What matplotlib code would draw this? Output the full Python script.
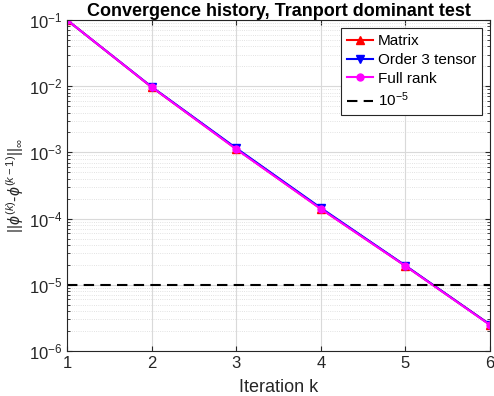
import matplotlib
matplotlib.use("Agg")
import matplotlib.pyplot as plt
from matplotlib.ticker import LogLocator, NullFormatter

plt.rcParams['font.family'] = ['Liberation Sans', 'DejaVu Sans']
plt.rcParams['mathtext.fontset'] = 'custom'
plt.rcParams['mathtext.rm'] = 'Liberation Sans'
plt.rcParams['mathtext.it'] = 'Liberation Sans:italic'
plt.rcParams['mathtext.bf'] = 'Liberation Sans:bold'

iterations = [1, 2, 3, 4, 5, 6]
matrix_err = [1.0e-1, 9.7e-3, 1.13e-3, 1.41e-4, 1.93e-5, 2.5e-6]
tensor_err = [1.0e-1, 9.8e-3, 1.16e-3, 1.45e-4, 1.95e-5, 2.5e-6]
fullrank_err = [1.0e-1, 9.7e-3, 1.12e-3, 1.40e-4, 1.92e-5, 2.47e-6]
tol = 1e-5

dark = '#262626'
fig = plt.figure(figsize=(4.94, 3.96), dpi=100)
ax = fig.add_axes([0.1356, 0.1136, 0.8564, 0.8359])

ax.plot(iterations, matrix_err, '-^', color='red', lw=1.5, ms=6, label='Matrix')
ax.plot(iterations, tensor_err, '-v', color='blue', lw=1.5, ms=6, label='Order 3 tensor')
ax.plot(iterations, fullrank_err, '-o', color='magenta', lw=1.5, ms=5, label='Full rank')
ax.axhline(tol, color='black', ls='--', lw=1.5, dashes=(5, 3), label=r'10$^{-5}$')

ax.set_yscale('log')
ax.set_xlim(1, 6)
ax.set_ylim(1e-6, 1e-1)
ax.set_xticks(iterations)
ax.yaxis.set_major_locator(LogLocator(base=10, numticks=10))
ax.yaxis.set_minor_locator(LogLocator(base=10, subs=range(2, 10), numticks=20))
ax.yaxis.set_minor_formatter(NullFormatter())

ax.grid(which='major', color='#d9d9d9', lw=0.8, ls='-')
ax.yaxis.grid(which='minor', color='#d9d9d9', lw=0.6, ls=':')
ax.set_axisbelow(True)
ax.tick_params(which='both', direction='in', top=True, right=True, colors=dark, labelsize=12)
ax.tick_params(which='minor', length=2)
for s in ax.spines.values():
    s.set_color(dark)
    s.set_linewidth(0.8)

ax.set_xlabel('Iteration k', fontsize=13, color=dark, labelpad=6)
ax.set_ylabel(r'$||\phi^{(k)}$-$\phi^{(k-1)}||_{\infty}$', fontsize=11.5, color=dark, labelpad=2)
ax.set_title('Convergence history, Tranport dominant test', fontsize=13, fontweight='bold', pad=3)

leg = ax.legend(loc='upper right', fontsize=11, frameon=True, fancybox=False, edgecolor=dark,
                framealpha=1, borderpad=0.4, labelspacing=0.32, handlelength=1.7,
                handletextpad=0.3, borderaxespad=0, bbox_to_anchor=(0.981, 0.976))
leg.get_frame().set_linewidth(0.8)

fig.savefig('out.png', dpi=100)
